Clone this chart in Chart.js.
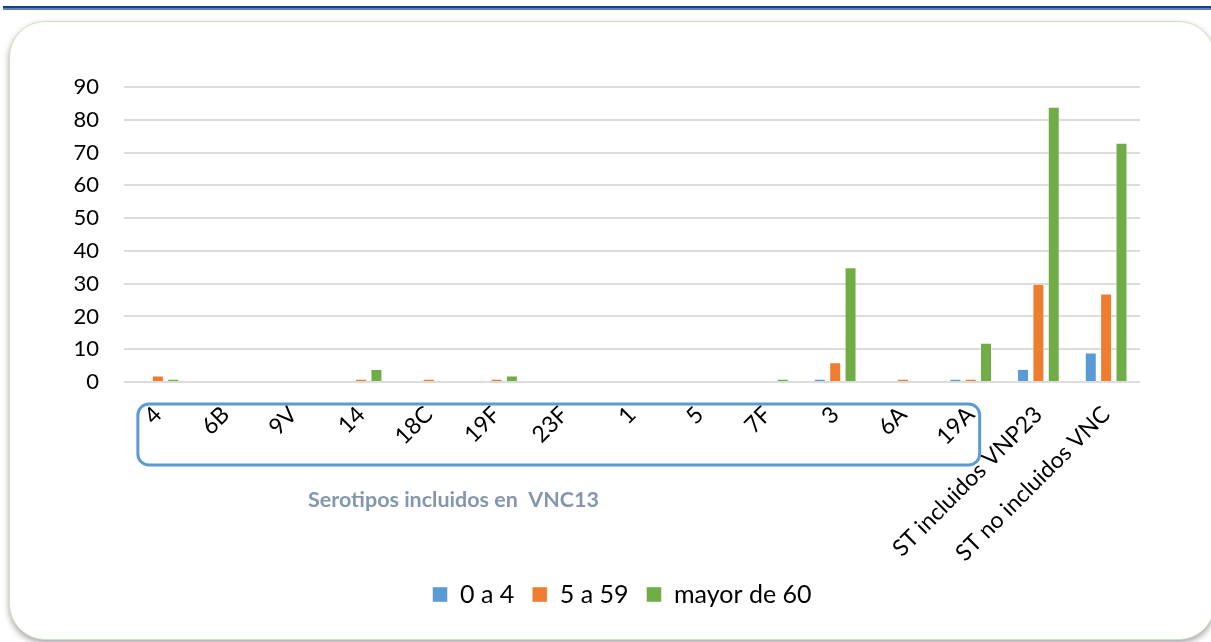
<!DOCTYPE html>
<html>
<head>
<meta charset="utf-8">
<script src="https://cdn.jsdelivr.net/npm/chart.js@4.4.1/dist/chart.umd.min.js"></script>
<style>
  html, body { margin: 0; padding: 0; background: #ffffff; }
  body { width: 1211px; height: 642px; position: relative; overflow: hidden; }
  #rule { position: absolute; left: 3px; right: 0; top: 6px; height: 2px; background: #1d3f84; }
  #rule2 { position: absolute; left: 3px; right: 0; top: 8px; height: 2px; background: #5b7fbf; }
  #panel {
    position: absolute; left: 9px; top: 21px; right: -4px; bottom: 2px;
    border: 1px solid #cfe0c2; border-radius: 36px;
    box-shadow: 0 3px 6px rgba(0,0,0,0.35);
    background: #ffffff;
  }
  #wrap { position: absolute; left: 0; top: 0; width: 1211px; height: 642px; }
</style>
</head>
<body>
<div id="rule"></div>
<div id="rule2"></div>
<div id="panel"></div>
<div id="wrap"><canvas id="c" width="1211" height="642"></canvas></div>
<script>
// Serotypes on the horizontal axis
const categories = ['4', '6B', '9V', '14', '18C', '19F', '23F', '1', '5', '7F', '3', '6A', '19A',
  'ST incluidos VNP23', 'ST no incluidos VNC'];

// Cases per age group
const edad0a4   = [0, 0, 0, 0, 0, 0, 0, 0, 0, 0, 1, 0, 1, 4, 9];
const edad5a59  = [2, 0, 0, 1, 1, 1, 0, 0, 0, 0, 6, 1, 1, 30, 27];
const mayor60   = [1, 0, 0, 4, 0, 2, 0, 0, 0, 1, 35, 0, 12, 84, 73];

const seriesNames = ['0 a 4', '5 a 59', 'mayor de 60'];
const yTicks = [0, 10, 20, 30, 40, 50, 60, 70, 80, 90];

const FONT = 'Lato, "Open Sans", sans-serif';

// Rounded frame around the VNC13 serotypes plus its caption
const vncGroup = {
  id: 'vncGroup',
  afterDraw(chart) {
    const x = chart.scales.x;
    const ctx = chart.ctx;
    const left = x.getPixelForValue(0) - 20;
    const right = x.getPixelForValue(12) + 9;
    const top = chart.chartArea.bottom + 22;
    const h = 61;
    ctx.save();
    ctx.strokeStyle = '#5b9bd5';
    ctx.lineWidth = 3;
    ctx.beginPath();
    ctx.roundRect(left, top, right - left, h, 11);
    ctx.stroke();
    ctx.fillStyle = '#8497b0';
    ctx.font = 'bold 21.5px ' + FONT;
    ctx.textAlign = 'left';
    ctx.textBaseline = 'middle';
    ctx.fillText('Serotipos incluidos en  VNC13', 308, 500);
    ctx.restore();
  }
};

// Center the legend under the plot area rather than the whole canvas
const legendShift = {
  id: 'legendShift',
  afterLayout(chart) {
    const lg = chart.legend;
    if (!lg) return;
    const target = (chart.chartArea.left + chart.chartArea.right) / 2 - 10;
    const d = target - (lg.left + lg.right) / 2;
    lg.left += d;
    lg.right += d;
  }
};

const colors = ['#5b9bd5', '#ed7d31', '#70ad47'];
const values = [edad0a4, edad5a59, mayor60];

new Chart(document.getElementById('c'), {
  type: 'bar',
  data: {
    labels: categories,
    datasets: values.map((v, i) => ({
      label: seriesNames[i],
      data: v,
      backgroundColor: colors[i],
      borderColor: 'rgba(255,255,255,0.45)',
      borderWidth: 1,
      categoryPercentage: 0.68,
      barPercentage: 0.78
    }))
  },
  options: {
    responsive: false,
    animation: false,
    layout: { padding: { left: 40, right: 71, top: 87, bottom: 25 } },
    plugins: {
      legend: {
        position: 'bottom',
        labels: {
          boxWidth: 15, boxHeight: 15, padding: 18,
          color: '#000000',
          font: { family: FONT, size: 25 }
        }
      },
      tooltip: { enabled: false }
    },
    scales: {
      x: {
        grid: { display: false },
        border: { display: false },
        ticks: {
          autoSkip: false, minRotation: 45, maxRotation: 45,
          padding: 11, color: '#000000',
          font: { family: FONT, size: 23 }
        },
        afterFit(axis) { axis.height = 182; }
      },
      y: {
        min: 0, max: 90,
        afterBuildTicks(axis) { axis.ticks = yTicks.map(v => ({ value: v })); },
        grid: { color: '#dcdcdc', lineWidth: 2, drawTicks: false },
        border: { display: false },
        ticks: {
          padding: 25, color: '#000000',
          font: { family: FONT, size: 22 }
        },
        afterFit(axis) { axis.width = 84; }
      }
    }
  },
  plugins: [vncGroup, legendShift]
});
</script>
</body>
</html>
